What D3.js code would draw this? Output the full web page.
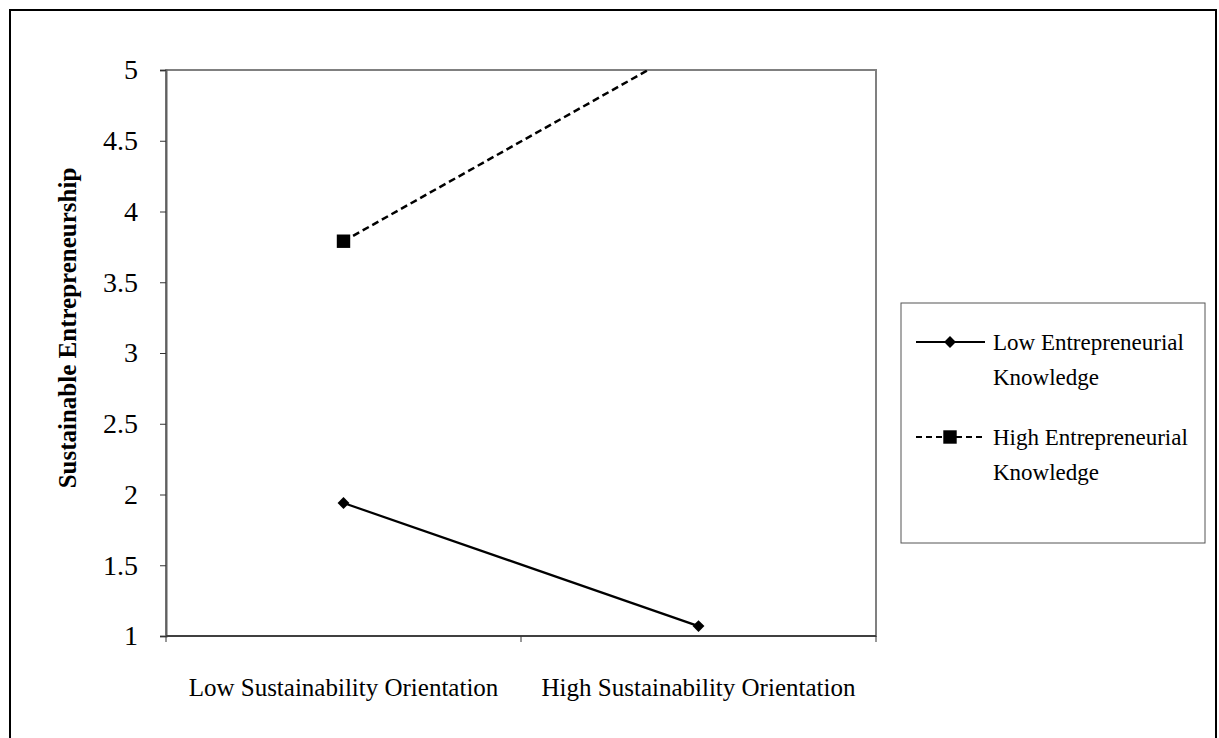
<!DOCTYPE html>
<html>
<head>
<meta charset="utf-8">
<script src="https://cdn.jsdelivr.net/npm/d3@7"></script>
<style>
  body { margin: 0; background: #fff; }
  svg { display: block; }
</style>
</head>
<body>
<div id="chart"></div>
<script>
// data
var categories = ["Low Sustainability Orientation", "High Sustainability Orientation"];
var seriesNames = ["Low Entrepreneurial Knowledge", "High Entrepreneurial Knowledge"];
var lowKnowledge = [1.94, 1.07];
var highKnowledge = [3.79, 5.2];
var yTicks = [1, 1.5, 2, 2.5, 3, 3.5, 4, 4.5, 5];

var W = 1219, H = 738;
var margin = { top: 70, right: 343, bottom: 102, left: 166 },
    width = W - margin.left - margin.right,
    height = H - margin.top - margin.bottom;

var svg = d3.select("#chart")
    .append("svg")
    .attr("width", W)
    .attr("height", H)
    .style("font-family", "'Liberation Serif', 'Times New Roman', serif");

// outer frame
svg.append("rect")
    .attr("x", 10).attr("y", 10)
    .attr("width", W - 13).attr("height", H + 10)
    .attr("fill", "none")
    .attr("stroke", "#000")
    .attr("stroke-width", 2);

var g = svg.append("g")
    .attr("transform", "translate(" + margin.left + "," + margin.top + ")");

var x = d3.scaleBand().domain(categories).range([0, width]);
var y = d3.scaleLinear().domain([1, 5]).range([height, 0]);

// plot frame
g.append("rect")
    .attr("width", width).attr("height", height)
    .attr("fill", "none")
    .attr("stroke", "#808080")
    .attr("stroke-width", 2);

// y axis
var yAxis = g.append("g")
    .call(d3.axisLeft(y).tickValues(yTicks).tickSize(6).tickPadding(22).tickFormat(d3.format("")));
yAxis.select(".domain").attr("stroke", "#606060").attr("stroke-width", 2);
yAxis.selectAll(".tick line").attr("stroke", "#333");
yAxis.selectAll("text")
    .style("font-size", "28px")
    .style("font-family", "'Liberation Serif', serif")
    .attr("fill", "#000");

// x axis: ticks at category boundaries
var xAxis = g.append("g")
    .attr("transform", "translate(0," + height + ")");
xAxis.append("line")
    .attr("x1", 0).attr("x2", width)
    .attr("stroke", "#404040").attr("stroke-width", 2);
var bounds = categories.map(function (c) { return x(c); }).concat([width]);
xAxis.selectAll(".bt")
    .data(bounds)
    .enter().append("line")
    .attr("x1", function (d) { return d; })
    .attr("x2", function (d) { return d; })
    .attr("y1", 0).attr("y2", 6)
    .attr("stroke", "#333");
xAxis.selectAll(".lbl")
    .data(categories)
    .enter().append("text")
    .attr("x", function (d) { return x(d) + x.bandwidth() / 2; })
    .attr("y", 60)
    .attr("text-anchor", "middle")
    .style("font-size", "25px")
    .text(function (d) { return d; });

// y title
g.append("text")
    .attr("transform", "translate(" + (67 - margin.left) + "," + (328 - margin.top) + ") rotate(-90)")
    .attr("text-anchor", "middle")
    .attr("dominant-baseline", "central")
    .style("font-size", "25px")
    .style("font-weight", "bold")
    .text("Sustainable Entrepreneurship");

// clip
g.append("clipPath").attr("id", "clip")
    .append("rect").attr("width", width).attr("height", height);

var line = d3.line()
    .x(function (d, i) { return x(categories[i]) + x.bandwidth() / 2; })
    .y(function (d) { return y(d); });

var plot = g.append("g").attr("clip-path", "url(#clip)");

plot.append("path")
    .datum(lowKnowledge)
    .attr("d", line)
    .attr("fill", "none")
    .attr("stroke", "#000")
    .attr("stroke-width", 2.2);

plot.append("path")
    .datum(highKnowledge)
    .attr("d", line)
    .attr("fill", "none")
    .attr("stroke", "#000")
    .attr("stroke-width", 2.5)
    .attr("stroke-dasharray", "7,4");

var diamond = d3.symbol().type(d3.symbolDiamond2).size(90);
var square = d3.symbol().type(d3.symbolSquare).size(180);

plot.selectAll(".lowpt")
    .data(lowKnowledge)
    .enter().append("path")
    .attr("d", diamond)
    .attr("transform", function (d, i) {
        return "translate(" + (x(categories[i]) + x.bandwidth() / 2) + "," + y(d) + ")";
    })
    .attr("fill", "#000");

plot.selectAll(".highpt")
    .data(highKnowledge)
    .enter().append("path")
    .attr("d", square)
    .attr("transform", function (d, i) {
        return "translate(" + (x(categories[i]) + x.bandwidth() / 2) + "," + y(d) + ")";
    })
    .attr("fill", "#000");

// legend
var legend = svg.append("g").attr("transform", "translate(901,303)");
legend.append("rect")
    .attr("width", 304).attr("height", 240)
    .attr("fill", "#fff")
    .attr("stroke", "#555")
    .attr("stroke-width", 1);

var legRows = [
    { name: seriesNames[0], y: 39, dash: null, sym: diamond },
    { name: seriesNames[1], y: 134, dash: "6,4", sym: square }
];
var lr = legend.selectAll(".lr").data(legRows).enter().append("g")
    .attr("transform", function (d) { return "translate(0," + d.y + ")"; });
lr.append("line")
    .attr("x1", 15).attr("x2", 84)
    .attr("stroke", "#000")
    .attr("stroke-width", 2)
    .attr("stroke-dasharray", function (d) { return d.dash; });
lr.append("path")
    .attr("d", function (d) { return d.sym(); })
    .attr("transform", "translate(49,0)")
    .attr("fill", "#000");
lr.append("text")
    .attr("x", 92).attr("y", 8)
    .style("font-size", "23px")
    .text(function (d) { return d.name.split(" ")[0] + " " + d.name.split(" ")[1]; });
lr.append("text")
    .attr("x", 92).attr("y", 43)
    .style("font-size", "23px")
    .text(function (d) { return d.name.split(" ")[2]; });
</script>
</body>
</html>
